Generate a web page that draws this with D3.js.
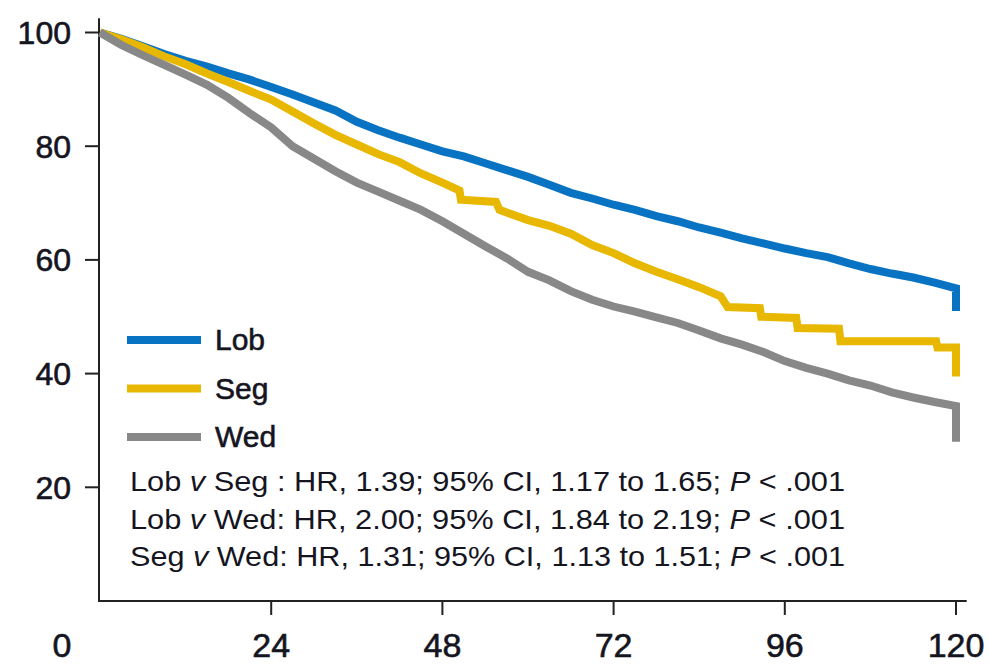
<!DOCTYPE html>
<html>
<head>
<meta charset="utf-8">
<script src="https://cdn.jsdelivr.net/npm/d3@7"></script>
<style>
  body { margin: 0; background: #fff; }
  text { font-family: "Liberation Sans", Arial, sans-serif; fill: #15151f; }
  .heavy { stroke: #15151f; stroke-width: 0.6px; }
</style>
</head>
<body>
<div id="chart"></div>
<script>
// Kaplan-Meier style survival curves, three resection types

const lobMonths = [0, 3, 6, 9, 12, 15, 18, 21, 24, 27, 30, 33, 36, 39, 42, 45, 48, 51, 54, 57,
  60, 63, 66, 69, 72, 75, 78, 81, 84, 87, 90, 93, 96, 99, 102, 105, 108, 111, 114, 117, 120, 120];
const lob = [100, 98.9, 97.6, 96.2, 95, 94, 92.8, 91.7, 90.4, 89.1, 87.7, 86.3, 84.3, 82.8, 81.5, 80.3,
  79.1, 78.2, 77, 75.8, 74.6, 73.2, 71.8, 70.8, 69.7, 68.8, 67.7, 66.8, 65.7, 64.8, 63.8, 62.9,
  62, 61.2, 60.5, 59.4, 58.4, 57.6, 56.9, 56, 55, 51];

const segMonths = [0, 3, 6, 9, 12, 15, 18, 21, 24, 27, 30, 33, 36, 39, 42, 45, 48, 50.4, 50.6, 55.5,
  56, 60, 63, 66, 69, 72, 75, 78, 81, 84, 87, 88, 92.5, 92.7, 97.6, 97.8, 103.6, 103.8, 117.2,
  117.4, 120, 120];
const seg = [100, 98.8, 97.4, 95.8, 94.4, 92.8, 91.3, 89.7, 88.2, 86.1, 84, 82, 80.3, 78.6, 77.2, 75.2,
  73.6, 72.2, 70.6, 70.2, 68.8, 67, 66, 64.6, 62.6, 61.2, 59.4, 57.9, 56.6, 55.2, 53.6, 51.7,
  51.5, 50, 49.8, 48, 47.9, 45.7, 45.7, 44.6, 44.6, 39.5];

const wedMonths = [0, 3, 6, 9, 12, 15, 18, 21, 24, 27, 30, 33, 36, 39, 42, 45, 48, 51, 54, 57,
  60, 63, 66, 69, 72, 75, 78, 81, 84, 87, 90, 93, 96, 99, 102, 105, 108, 111, 114, 117, 120, 120];
const wed = [100, 97.8, 96, 94.3, 92.6, 90.8, 88.5, 85.8, 83.3, 80, 77.8, 75.6, 73.6, 72, 70.4, 68.8,
  66.8, 64.6, 62.4, 60.3, 57.9, 56.4, 54.5, 53, 51.8, 50.9, 49.9, 48.9, 47.6, 46.2, 45.1, 43.8,
  42.2, 41, 40, 38.8, 37.9, 36.7, 35.8, 35, 34.3, 28];

const seriesNames = ["Lob", "Seg", "Wed"];
const seriesColors = ["#0873c3", "#e8b700", "#888888"];

const xTicks = [24, 48, 72, 96, 120];
const yTicks = [20, 40, 60, 80, 100];

const statLines = [
  ["Lob ", "v", " Seg : HR, 1.39; 95% CI, 1.17 to 1.65; ", "P", " < .001"],
  ["Lob ", "v", " Wed: HR, 2.00; 95% CI, 1.84 to 2.19; ", "P", " < .001"],
  ["Seg ", "v", " Wed: HR, 1.31; 95% CI, 1.13 to 1.51; ", "P", " < .001"]
];

const width = 989, height = 666;

const svg = d3.select("#chart").append("svg")
  .attr("width", width)
  .attr("height", height);

const x = d3.scaleLinear().domain([0, 120]).range([100, 956]);
const y = d3.scaleLinear().domain([0, 100]).range([601, 32.5]);

// axes lines (drawn a bit past the data range, like the original)
svg.append("line")
  .attr("x1", x(0) - 1).attr("x2", x(0) - 1)
  .attr("y1", y(0)).attr("y2", y(102.5))
  .attr("stroke", "#222").attr("stroke-width", 2);

svg.append("line")
  .attr("x1", x(0) - 2).attr("x2", x(121.5))
  .attr("y1", y(0)).attr("y2", y(0))
  .attr("stroke", "#222").attr("stroke-width", 2);

// y ticks
const yt = svg.append("g").selectAll("g")
  .data(yTicks)
  .join("g")
  .attr("transform", d => `translate(0 ${y(d)})`);

yt.append("line")
  .attr("x1", x(0) - 15).attr("x2", x(0) - 1)
  .attr("stroke", "#222").attr("stroke-width", 2);

yt.append("text")
  .attr("class", "heavy")
  .attr("x", x(0) - 29)
  .attr("dy", "0.36em")
  .attr("text-anchor", "end")
  .style("font-size", "32px")
  .text(d => d);

// x ticks
const xt = svg.append("g").selectAll("g")
  .data(xTicks)
  .join("g")
  .attr("transform", d => `translate(${x(d)} 0)`);

xt.append("line")
  .attr("y1", y(0)).attr("y2", y(0) + 14)
  .attr("stroke", "#222").attr("stroke-width", 2);

xt.append("text")
  .attr("class", "heavy")
  .attr("y", y(0) + 56)
  .attr("text-anchor", "middle")
  .style("font-size", "34px")
  .text(d => d);

// lone origin label, sits left of the axis corner
svg.append("text")
  .attr("class", "heavy")
  .attr("x", x(0) - 38)
  .attr("y", y(0) + 56)
  .attr("text-anchor", "middle")
  .style("font-size", "34px")
  .text("0");

// survival curves, blue at the back and gray on top
const curves = [
  { t: lobMonths, v: lob, color: seriesColors[0] },
  { t: segMonths, v: seg, color: seriesColors[1] },
  { t: wedMonths, v: wed, color: seriesColors[2] }
];

const line = d3.line()
  .x(d => x(d[0]))
  .y(d => y(d[1]));

svg.append("g").selectAll("path")
  .data(curves)
  .join("path")
  .attr("d", c => line(c.t.map((m, i) => [m, c.v[i]])))
  .attr("fill", "none")
  .attr("stroke", c => c.color)
  .attr("stroke-width", 8)
  .attr("stroke-linejoin", "miter");

// legend
const legend = svg.append("g").selectAll("g")
  .data(seriesNames)
  .join("g")
  .attr("transform", (d, i) => `translate(127 ${340 + i * 48.5})`);

legend.append("line")
  .attr("x1", 0).attr("x2", 74)
  .attr("stroke", (d, i) => seriesColors[i])
  .attr("stroke-width", 8);

legend.append("text")
  .attr("class", "heavy")
  .attr("x", 88)
  .attr("y", 10)
  .style("font-size", "30px")
  .text(d => d);

// hazard ratio notes
const stats = svg.append("g").selectAll("text")
  .data(statLines)
  .join("text")
  .attr("x", 130)
  .attr("y", (d, i) => 491 + i * 37.5)
  .attr("textLength", 715)
  .attr("lengthAdjust", "spacingAndGlyphs")
  .style("font-size", "28px");

stats.selectAll("tspan")
  .data(d => d)
  .join("tspan")
  .style("font-style", (d, i) => (i === 1 || i === 3) ? "italic" : "normal")
  .text(d => d);
</script>
</body>
</html>
